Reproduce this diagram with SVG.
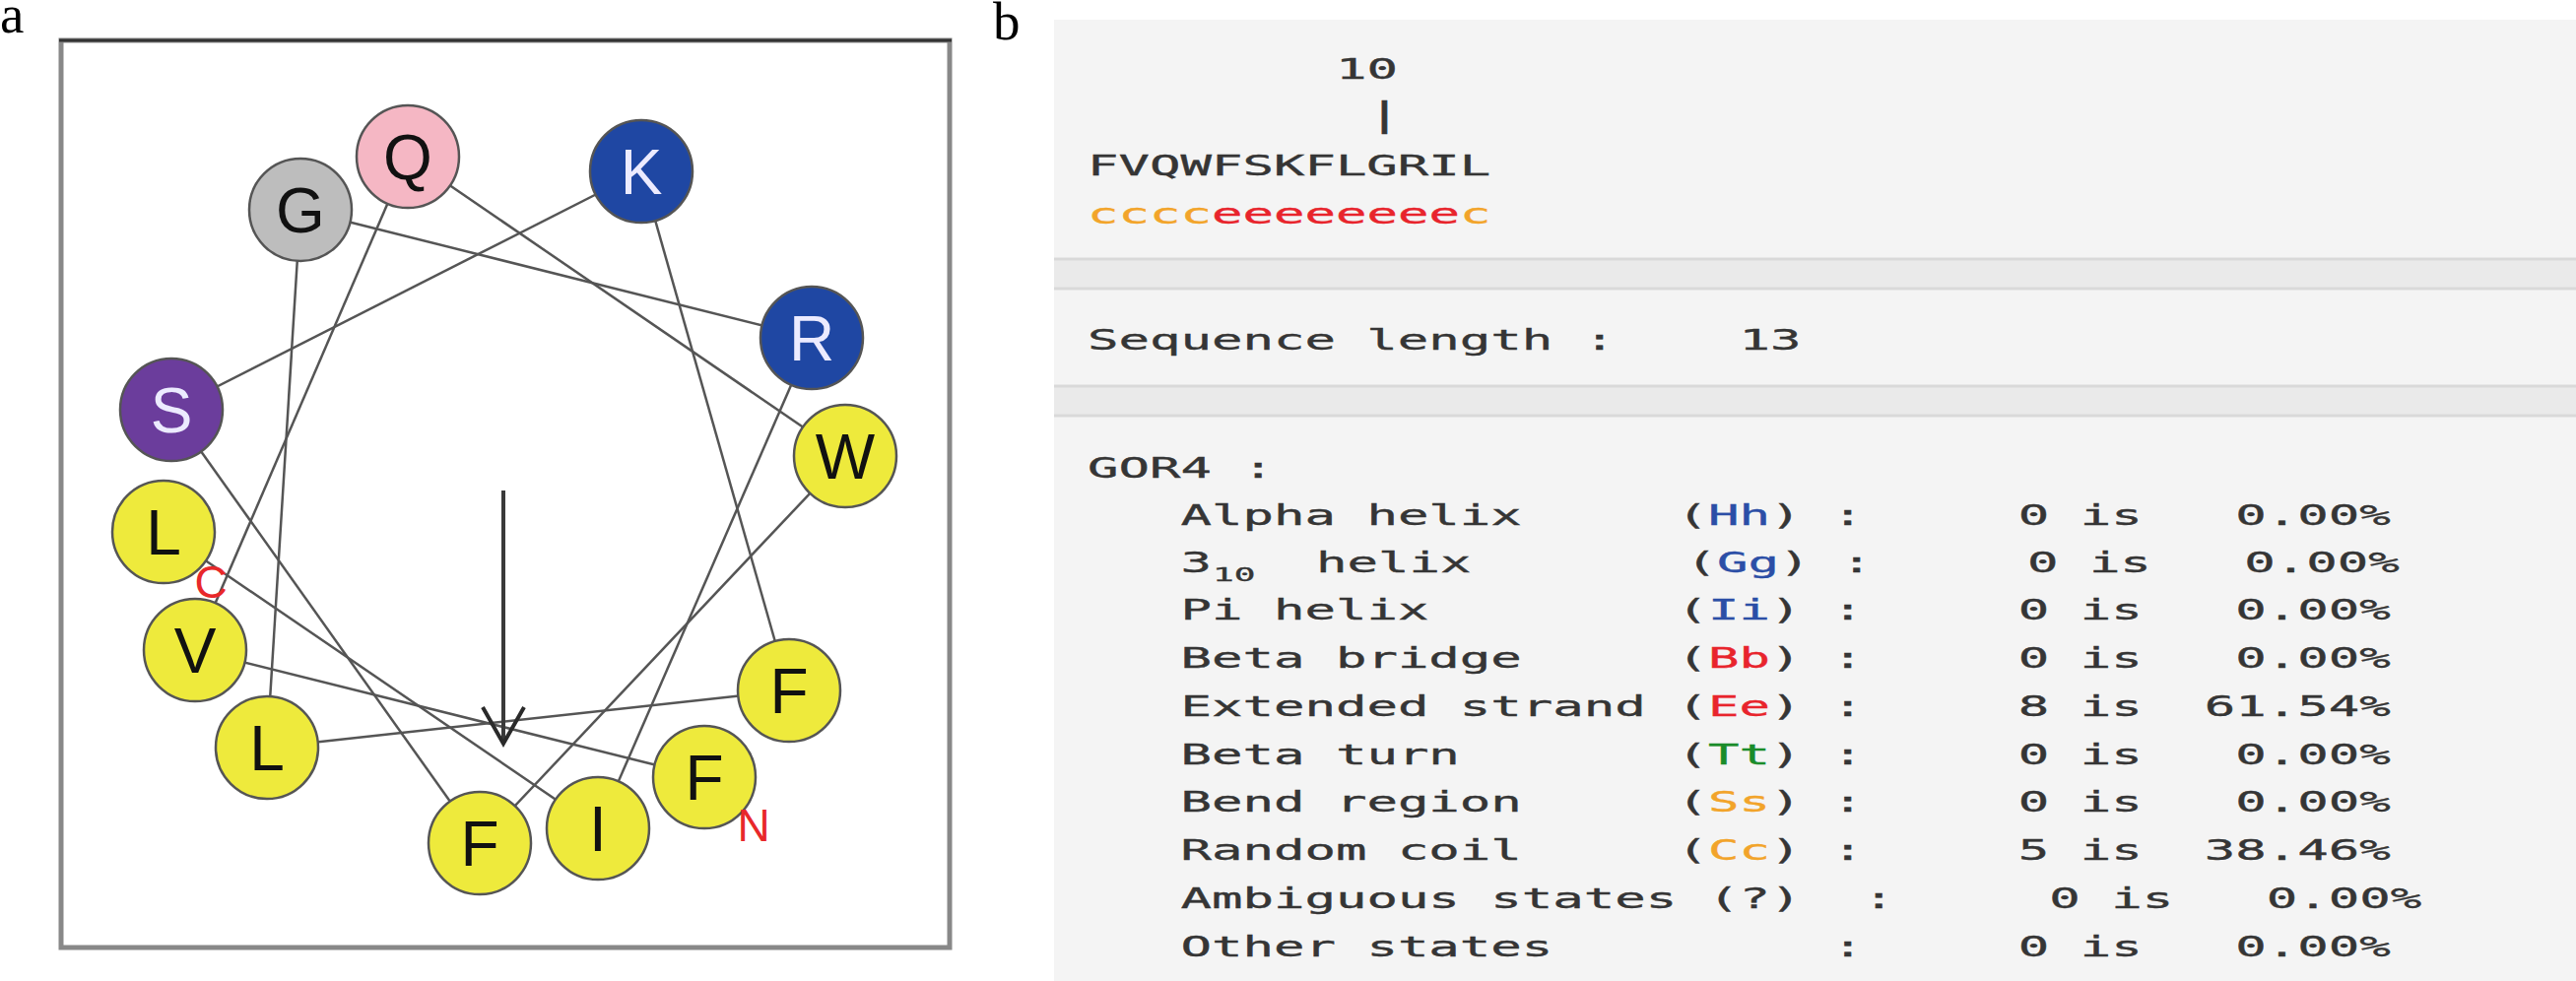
<svg xmlns="http://www.w3.org/2000/svg" width="2615" height="996" viewBox="0 0 2615 996">
<style>
.lbl{font-family:"Liberation Serif","Times New Roman",serif;font-size:55px;fill:#000}
.lnk{stroke:#555;stroke-width:2.5;fill:none}
.res circle{stroke:#555;stroke-width:2.5}
.res text{font-family:"Liberation Sans",Arial,sans-serif;font-size:64px;text-anchor:middle;fill:#111}
.res.lt text{fill:#ecebff}
.y{fill:#eeea3c}.bl{fill:#1f47a3}.pu{fill:#6b3d9c}.gr{fill:#bdbdbd}.pk{fill:#f5b7c4}
.term{font-family:"Liberation Sans",Arial,sans-serif;font-size:46px;fill:#e8282a;text-anchor:middle}
.mono{font-family:"DejaVu Sans Mono",monospace;font-size:29px;fill:#353535;stroke:#353535;stroke-width:0.35}
.sub{font-size:20px}
.cb{fill:#2b4ea6;stroke:#2b4ea6}.cr{fill:#e8242c;stroke:#e8242c}.cg{fill:#1a8c2a;stroke:#1a8c2a}.co{fill:#f2a42a;stroke:#f2a42a}
.band{fill:#eaeaea}
.bline{stroke:#d9d9d9;stroke-width:3}
</style>
<rect width="2615" height="996" fill="#fff"/>
<text class="lbl" x="0" y="33">a</text>
<text class="lbl" x="1008" y="40">b</text>

<g id="panel-a">
<rect x="62" y="41" width="902" height="921" fill="#fff" stroke="#888" stroke-width="5"/>
<line x1="60" y1="41" x2="966" y2="41" stroke="#333" stroke-width="3"/>
<g id="connectors">
<line class="lnk" x1="715" y1="789" x2="198" y2="660"/>
<line class="lnk" x1="198" y1="660" x2="414" y2="159"/>
<line class="lnk" x1="414" y1="159" x2="858" y2="463"/>
<line class="lnk" x1="858" y1="463" x2="487" y2="856"/>
<line class="lnk" x1="487" y1="856" x2="174" y2="416"/>
<line class="lnk" x1="174" y1="416" x2="651" y2="174"/>
<line class="lnk" x1="651" y1="174" x2="801" y2="701"/>
<line class="lnk" x1="801" y1="701" x2="271" y2="759"/>
<line class="lnk" x1="271" y1="759" x2="305" y2="213"/>
<line class="lnk" x1="305" y1="213" x2="824" y2="343"/>
<line class="lnk" x1="824" y1="343" x2="607" y2="841"/>
<line class="lnk" x1="607" y1="841" x2="166" y2="540"/>
</g>
<g id="moment-arrow">
<line x1="511" y1="498" x2="511" y2="752" stroke="#3a3a3a" stroke-width="4"/>
<polyline points="490,718 511,755 532,718" fill="none" stroke="#2a2a2a" stroke-width="4"/>
</g>
<g id="res-F1" class="res"><circle class="y" cx="715" cy="789" r="52"/><text x="715" y="812">F</text></g>
<g id="res-V2" class="res"><circle class="y" cx="198" cy="660" r="52"/><text x="198" y="683">V</text></g>
<g id="res-Q3" class="res"><circle class="pk" cx="414" cy="159" r="52"/><text x="414" y="182">Q</text></g>
<g id="res-W4" class="res"><circle class="y" cx="858" cy="463" r="52"/><text x="858" y="486">W</text></g>
<g id="res-F5" class="res"><circle class="y" cx="487" cy="856" r="52"/><text x="487" y="879">F</text></g>
<g id="res-S6" class="res lt"><circle class="pu" cx="174" cy="416" r="52"/><text x="174" y="439">S</text></g>
<g id="res-K7" class="res lt"><circle class="bl" cx="651" cy="174" r="52"/><text x="651" y="197">K</text></g>
<g id="res-F8" class="res"><circle class="y" cx="801" cy="701" r="52"/><text x="801" y="724">F</text></g>
<g id="res-L9" class="res"><circle class="y" cx="271" cy="759" r="52"/><text x="271" y="782">L</text></g>
<g id="res-G10" class="res"><circle class="gr" cx="305" cy="213" r="52"/><text x="305" y="236">G</text></g>
<g id="res-R11" class="res lt"><circle class="bl" cx="824" cy="343" r="52"/><text x="824" y="366">R</text></g>
<g id="res-I12" class="res"><circle class="y" cx="607" cy="841" r="52"/><text x="607" y="864">I</text></g>
<g id="res-L13" class="res"><circle class="y" cx="166" cy="540" r="52"/><text x="166" y="563">L</text></g>
<text class="term" x="214" y="607">C</text>
<text class="term" x="765" y="854">N</text>
</g>

<g id="panel-b">
<rect x="1070" y="20" width="1545" height="976" fill="#f4f4f4"/>
<rect class="band" x="1070" y="263" width="1545" height="30"/>
<line class="bline" x1="1070" y1="263" x2="2615" y2="263"/>
<line class="bline" x1="1070" y1="293" x2="2615" y2="293"/>
<rect class="band" x="1070" y="392" width="1545" height="30"/>
<line class="bline" x1="1070" y1="392" x2="2615" y2="392"/>
<line class="bline" x1="1070" y1="422" x2="2615" y2="422"/>
<g class="mono" transform="translate(1104,0) scale(1.804,1)">
<text x="139.67" y="80">10</text>
<text x="157.13" y="128" style="font-size:33px">|</text>
<text x="0" y="178">FVQWFSKFLGRIL</text>
<text y="227"><tspan x="0" class="co">cccc</tspan><tspan x="69.84" class="cr">eeeeeeee</tspan><tspan x="209.51" class="co">c</tspan></text>
<text y="355"><tspan x="0">Sequence length</tspan><tspan x="279.34">:</tspan><tspan x="366.64">13</tspan></text>
<text y="485"><tspan x="0">GOR4</tspan><tspan x="87.30">:</tspan></text>
<text y="533"><tspan x="52.38">Alpha helix</tspan><tspan x="331.72">(</tspan><tspan x="349.18" class="cb">Hh</tspan><tspan x="384.10">)</tspan><tspan x="419.02">:</tspan><tspan x="523.77">0</tspan><tspan x="558.69">is</tspan><tspan x="645.98">0.00%</tspan></text>
<text y="581"><tspan x="52.38">3</tspan><tspan x="70.4" dy="9" class="sub">10</tspan><tspan x="128.6" dy="-9">helix</tspan><tspan x="336.72">(</tspan><tspan x="354.18" class="cb">Gg</tspan><tspan x="389.10">)</tspan><tspan x="424.02">:</tspan><tspan x="528.77">0</tspan><tspan x="563.69">is</tspan><tspan x="650.98">0.00%</tspan></text>
<text y="629.5"><tspan x="52.38">Pi helix</tspan><tspan x="331.72">(</tspan><tspan x="349.18" class="cb">Ii</tspan><tspan x="384.10">)</tspan><tspan x="419.02">:</tspan><tspan x="523.77">0</tspan><tspan x="558.69">is</tspan><tspan x="645.98">0.00%</tspan></text>
<text y="678"><tspan x="52.38">Beta bridge</tspan><tspan x="331.72">(</tspan><tspan x="349.18" class="cr">Bb</tspan><tspan x="384.10">)</tspan><tspan x="419.02">:</tspan><tspan x="523.77">0</tspan><tspan x="558.69">is</tspan><tspan x="645.98">0.00%</tspan></text>
<text y="727"><tspan x="52.38">Extended strand</tspan><tspan x="331.72">(</tspan><tspan x="349.18" class="cr">Ee</tspan><tspan x="384.10">)</tspan><tspan x="419.02">:</tspan><tspan x="523.77">8</tspan><tspan x="558.69">is</tspan><tspan x="628.52">61.54%</tspan></text>
<text y="776"><tspan x="52.38">Beta turn</tspan><tspan x="331.72">(</tspan><tspan x="349.18" class="cg">Tt</tspan><tspan x="384.10">)</tspan><tspan x="419.02">:</tspan><tspan x="523.77">0</tspan><tspan x="558.69">is</tspan><tspan x="645.98">0.00%</tspan></text>
<text y="824.5"><tspan x="52.38">Bend region</tspan><tspan x="331.72">(</tspan><tspan x="349.18" class="co">Ss</tspan><tspan x="384.10">)</tspan><tspan x="419.02">:</tspan><tspan x="523.77">0</tspan><tspan x="558.69">is</tspan><tspan x="645.98">0.00%</tspan></text>
<text y="873.5"><tspan x="52.38">Random coil</tspan><tspan x="331.72">(</tspan><tspan x="349.18" class="co">Cc</tspan><tspan x="384.10">)</tspan><tspan x="419.02">:</tspan><tspan x="523.77">5</tspan><tspan x="558.69">is</tspan><tspan x="628.52">38.46%</tspan></text>
<text y="922"><tspan x="52.38">Ambiguous states</tspan><tspan x="349.18">(?)</tspan><tspan x="436.48">:</tspan><tspan x="541.23">0</tspan><tspan x="576.15">is</tspan><tspan x="663.44">0.00%</tspan></text>
<text y="971"><tspan x="52.38">Other states</tspan><tspan x="419.02">:</tspan><tspan x="523.77">0</tspan><tspan x="558.69">is</tspan><tspan x="645.98">0.00%</tspan></text>
</g>
</g>
</svg>
